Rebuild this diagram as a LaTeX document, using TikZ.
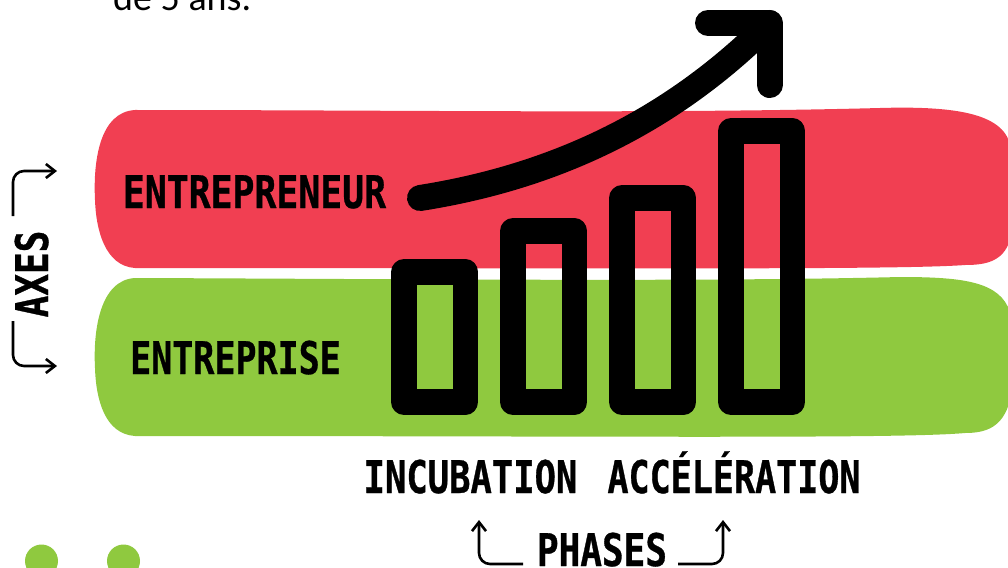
\documentclass[tikz,border=0pt]{standalone}
\usepackage{fontspec}
\setmainfont{Carlito}
\newfontfamily\labelfont[FakeStretch=0.8,FakeBold=0.7]{DejaVu Sans Mono Bold}
\definecolor{bandred}{HTML}{F13F52}
\definecolor{bandgreen}{HTML}{8FC93F}
\usetikzlibrary{arrows.meta}
\tikzset{
  label text/.style={font=\labelfont\fontsize{45}{45}\selectfont, text=black, inner sep=0pt, anchor=base, transform shape},
  bar/.style={draw=black, line width=25.5pt, line join=round},
  thin arrow/.style={draw=black, line width=2.6pt, rounded corners=11pt, -{Straight Barb[length=9pt,width=14pt,line width=2.6pt]}},
}
\begin{document}
\begin{tikzpicture}[x=1pt,y=-1pt]
\path[use as bounding box] (0,0) rectangle (1008,567);
\clip (0,0) rectangle (1008,567);
\fill[bandred] (135,110) .. controls (400,110) and (650,114) .. (880,108)
  .. controls (950,106) and (1003,112) .. (1010,145) -- (1010,240)
  .. controls (1003,262) and (985,265) .. (965,265)
  .. controls (900,270) and (600,268) .. (135,268)
  .. controls (105,266) and (96,230) .. (95,200) .. controls (93,160) and (100,112) .. (135,110) -- cycle;
\fill[bandgreen] (135,278) .. controls (400,279) and (700,282) .. (900,277)
  .. controls (965,277) and (1000,282) .. (1010,312) -- (1010,400)
  .. controls (1003,428) and (985,433) .. (965,433)
  .. controls (900,439) and (600,436) .. (135,436)
  .. controls (105,434) and (96,400) .. (95,368) .. controls (93,330) and (100,280) .. (135,278) -- cycle;
\node[inner sep=0pt, anchor=base west, font=\fontsize{38}{38}\selectfont] (caption) at (113,11) {de 5 ans.};
\node[label text, xscale=1.012] (entrepreneur) at (254.5,208) {ENTREPRENEUR};
\node[label text, xscale=0.972] (entreprise) at (235.5,374) {ENTREPRISE};
\node[label text, xscale=0.986] (incubation) at (470.5,493) {INCUBATION};
\node[label text, xscale=0.973] (acceleration) at (734,493) {ACCÉLÉRATION};
\node[label text] (phases) at (602,566) {PHASES};
\node[label text, rotate=90] (axes) at (48,274) {AXES};
\draw[bar] (404,272) rectangle (465.5,402);
\draw[bar] (513,231) rectangle (574.5,402);
\draw[bar] (622,198) rectangle (683.5,402);
\draw[bar] (731,131) rectangle (792.5,402);
\coordinate (trendstart) at (420,198);
\coordinate (trendtip) at (769.5,23);
\coordinate (headleft) at (708,23);
\coordinate (headdown) at (769.5,85);
\draw[line width=26pt, line cap=round, line join=round] (trendstart) .. controls (560,176) and (675,118) .. (trendtip);
\draw[line width=26pt, line cap=round, line join=round] (headleft) -- (trendtip) -- (headdown);
\coordinate (ax1) at (13,216);
\coordinate (ax1c) at (13,171);
\coordinate (ax1e) at (57,171);
\coordinate (ax2) at (13,321);
\coordinate (ax2c) at (13,366);
\coordinate (ax2e) at (57,366);
\coordinate (ph1) at (523,564);
\coordinate (ph1c) at (479,564);
\coordinate (ph1e) at (479,520);
\coordinate (ph2) at (678,564);
\coordinate (ph2c) at (723,564);
\coordinate (ph2e) at (723,520);
\draw[thin arrow] (ax1) -- (ax1c) -- (ax1e);
\draw[thin arrow] (ax2) -- (ax2c) -- (ax2e);
\draw[thin arrow] (ph1) -- (ph1c) -- (ph1e);
\draw[thin arrow] (ph2) -- (ph2c) -- (ph2e);
\fill[bandgreen] (41.5,561) circle (16.5);
\fill[bandgreen] (123.5,561) circle (16.5);
\end{tikzpicture}
\end{document}
